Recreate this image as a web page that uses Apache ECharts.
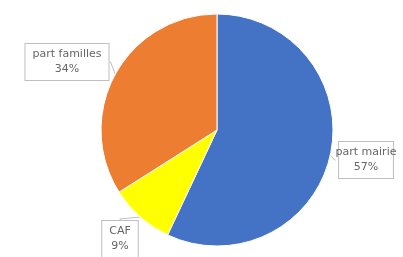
<!DOCTYPE html>
<html>
<head>
<meta charset="utf-8">
<script src="https://cdn.jsdelivr.net/npm/echarts@6/dist/echarts.min.js"></script>
<style>
html,body{margin:0;padding:0;background:#fff;}
#chart{width:403px;height:257px;}
</style>
</head>
<body>
<div id="chart"></div>
<script>
// parts du financement
var names = ['part mairie', 'CAF', 'part familles'];
var values = [57, 9, 34];
var colors = ['#4472C4', '#FFFF00', '#ED7D31'];

// where each callout box sits (centre of box)
var boxPos = [
    {x: 366, y: 160},
    {x: 120, y: 239},
    {x: 67, y: 62}
];

var data = [];
for (var i = 0; i < names.length; i++) {
    data.push({name: names[i], value: values[i], itemStyle: {color: colors[i]}});
}

var chart = echarts.init(document.getElementById('chart'));
chart.setOption({
    animation: false,
    series: [{
        type: 'pie',
        center: [217, 130],
        radius: [0, 116],
        startAngle: 90,
        clockwise: true,
        data: data,
        itemStyle: {borderColor: '#fff', borderWidth: 1},
        label: {
            show: true,
            position: 'outside',
            formatter: '{b}\n{d}%',
            fontFamily: 'DejaVu Sans',
            fontSize: 11,
            lineHeight: 15,
            color: '#666',
            align: 'center',
            overflow: 'none',
            backgroundColor: '#fff',
            borderColor: '#bfbfbf',
            borderWidth: 1,
            padding: [3, 7, 3, 7]
        },
        labelLine: {
            show: true,
            length: 3,
            length2: 1,
            lineStyle: {color: '#bfbfbf', width: 1}
        },
        labelLayout: function (params) {
            var p = boxPos[params.dataIndex];
            return {x: p.x, y: p.y, align: 'center', verticalAlign: 'middle'};
        }
    }]
});
</script>
</body>
</html>
